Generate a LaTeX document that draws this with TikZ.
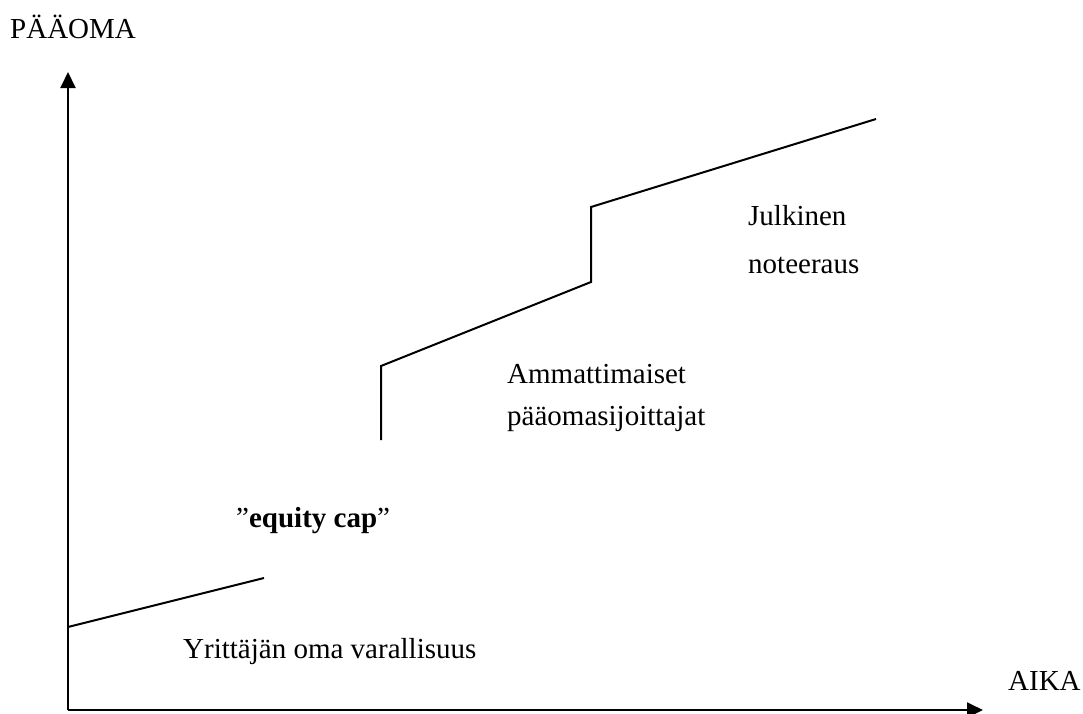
\documentclass[tikz,border=0pt]{standalone}
\usepackage{fontspec}
\setmainfont{Liberation Serif}
\usetikzlibrary{arrows.meta}
\begin{document}
\begin{tikzpicture}[x=1pt,y=-1pt,
  axis/.style={line width=2pt,-{Triangle[length=16pt,width=15pt]}},
  curve/.style={line width=2pt,line join=miter},
  lbl/.style={anchor=base west,inner sep=0pt,align=left,font=\fontsize{29}{42}\selectfont}]
\useasboundingbox (0,0) rectangle (1083,713);
% axes
\coordinate (O) at (68,710);
\coordinate (ytip) at (68,72);
\coordinate (xtip) at (983,710);
\draw[axis] (O) -- (ytip);
\draw[axis] (O) -- (xtip);
% growth of capital in stages
\coordinate (a1) at (68,627);
\coordinate (a2) at (264,578);
\coordinate (b1) at (381,440);
\coordinate (b2) at (381,366);
\coordinate (b3) at (591,282);
\coordinate (b4) at (591,207);
\coordinate (b5) at (876,119);
\draw[curve] (a1) -- (a2);
\draw[curve] (b1) -- (b2) -- (b3) -- (b4) -- (b5);
% labels (multi-line labels are placed by their last baseline)
\node[lbl] (paaoma) at (10,38) {PÄÄOMA};
\node[lbl] (aika) at (1008,690) {AIKA};
\node[lbl] (oma) at (183,658) {Yrittäjän oma varallisuus};
\node[lbl] (gap) at (236,527) {”\textbf{equity cap}”};
\node[lbl] (pom) at (507,425) {Ammattimaiset\\pääomasijoittajat};
\node[lbl,font=\fontsize{29}{48}\selectfont] (julk) at (748,273) {Julkinen\\noteeraus};
\end{tikzpicture}
\end{document}
